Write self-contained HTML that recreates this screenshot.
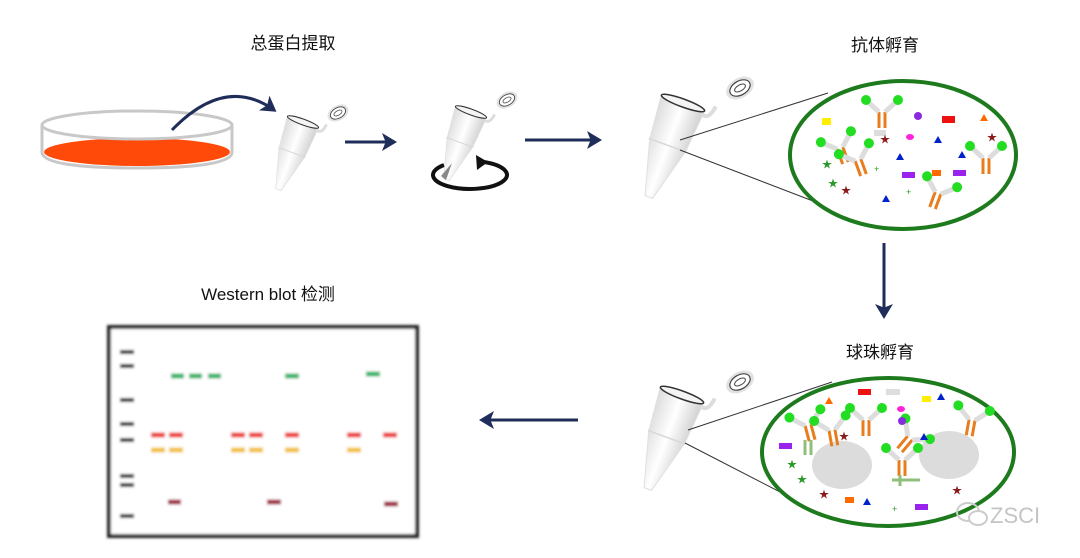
<!DOCTYPE html>
<html><head><meta charset="utf-8"><style>
html,body{margin:0;padding:0;background:#fff;}
svg{display:block;}
text{font-family:"Liberation Sans","Noto Sans CJK SC",sans-serif;}
</style></head><body>
<svg width="1080" height="558" viewBox="0 0 1080 558" xmlns="http://www.w3.org/2000/svg">
<defs>
<linearGradient id="tg" x1="0" x2="1" y1="0" y2="0">
<stop offset="0" stop-color="#dcdcdc"/><stop offset="0.5" stop-color="#ffffff"/><stop offset="1" stop-color="#d0d0d0"/>
</linearGradient>
<g id="tube">
<path d="M-23,0 L-19,45 L-4,100 L4,100 L19,45 L23,0 Z" fill="url(#tg)" stroke="#e0e0e0" stroke-width="1"/>
<line x1="-20" y1="45" x2="20" y2="45" stroke="#d8d8d8" stroke-width="1.5"/>
<ellipse cx="0" cy="0" rx="23" ry="4" fill="#f4f4f4" stroke="#333" stroke-width="1.5"/>
<path d="M21,4 Q30,8 32,-8" fill="none" stroke="#ddd" stroke-width="4"/>
</g>
<g id="cap">
<ellipse cx="0" cy="0" rx="15" ry="10" fill="#e2e2e2"/>
<ellipse cx="0" cy="0" rx="11" ry="7" fill="#fff" stroke="#444" stroke-width="1.2"/>
<ellipse cx="0" cy="0" rx="6" ry="3" fill="none" stroke="#444" stroke-width="1"/>
</g>
<marker id="ah" markerWidth="6" markerHeight="6" refX="4" refY="3" orient="auto" markerUnits="strokeWidth">
<path d="M0,0 L5,3 L0,6 L1.2,3 Z" fill="#1f2d5a"/>
</marker>
<filter id="bl"><feGaussianBlur stdDeviation="1.3"/></filter>
<g id="ab">
<path d="M-3,0 L-3,16 M3,0 L3,16" stroke="#e87d1e" stroke-width="3"/>
<path d="M-3,0 L-14,-10 M3,0 L14,-10" stroke="#ddd" stroke-width="5"/>
<circle cx="-16" cy="-12" r="5" fill="#22dd22"/><circle cx="16" cy="-12" r="5" fill="#22dd22"/>
</g>
</defs>

<text x="293" y="49" font-size="17" text-anchor="middle" fill="#111">总蛋白提取</text>
<text x="885" y="51" font-size="17" text-anchor="middle" fill="#111">抗体孵育</text>
<text x="880" y="358" font-size="17" text-anchor="middle" fill="#111">球珠孵育</text>
<text x="268" y="300" font-size="17" text-anchor="middle" fill="#111">Western blot 检测</text>

<ellipse cx="137" cy="152" rx="93" ry="14" fill="#ff4a0a"/>
<path d="M42,125 L42,153 Q45,168 137,168 Q229,168 232,153 L232,125" fill="none" stroke="#c8c8c8" stroke-width="3"/>
<ellipse cx="137" cy="125" rx="95" ry="14" fill="none" stroke="#c8c8c8" stroke-width="3"/>
<path d="M172,130 Q225,75 274,110" fill="none" stroke="#1f2d5a" stroke-width="3" marker-end="url(#ah)"/>

<g transform="translate(303,122) rotate(20) scale(0.72)"><use href="#tube"/></g>
<g transform="translate(338,113) rotate(-30) scale(0.75)"><use href="#cap"/></g>
<line x1="345" y1="142" x2="394" y2="142" stroke="#1f2d5a" stroke-width="3" marker-end="url(#ah)"/>

<path d="M444,165 A37,14 0 1 0 484,162" fill="none" stroke="#111" stroke-width="4"/>
<path d="M476,155 L488,162 L477,170 Z" fill="#111"/>
<g transform="translate(471,112) rotate(20) scale(0.72)"><use href="#tube"/></g>
<path d="M441,176 L452,163 L446,180 Z" fill="#888"/>
<g transform="translate(507,100) rotate(-30) scale(0.75)"><use href="#cap"/></g>
<line x1="525" y1="140" x2="599" y2="140" stroke="#1f2d5a" stroke-width="3" marker-end="url(#ah)"/>

<g transform="translate(683,103) rotate(20)"><use href="#tube"/></g>
<g transform="translate(740,88) rotate(-30)"><use href="#cap"/></g>
<line x1="680" y1="140" x2="828" y2="93" stroke="#333" stroke-width="1"/>
<line x1="680" y1="150" x2="826" y2="206" stroke="#333" stroke-width="1"/>

<ellipse cx="903" cy="155" rx="113" ry="74" fill="#fff" stroke="#1d7a1d" stroke-width="4"/>
<g transform="translate(882,112)"><use href="#ab"/></g>
<g transform="translate(840,148) rotate(-20)"><use href="#ab"/></g>
<g transform="translate(858,160) rotate(-20)"><use href="#ab"/></g>
<g transform="translate(986,158)"><use href="#ab"/></g>
<g transform="translate(938,193) rotate(20)"><use href="#ab"/></g>
<rect x="822" y="118" width="9" height="7" fill="#ffee00"/>
<rect x="874" y="130" width="12" height="6" fill="#ddd"/>
<circle cx="918" cy="116" r="4" fill="#8a2be2"/>
<rect x="942" y="116" width="13" height="7" fill="#ee1111"/>
<path d="M980,121 L984,114 L988,121 Z" fill="#ff6a00"/>
<ellipse cx="910" cy="137" rx="4" ry="3" fill="#ff22dd"/>
<path d="M934,143 L938,136 L942,143 Z" fill="#0022cc"/>
<path d="M896,160 L900,153 L904,160 Z" fill="#0022cc"/>
<path d="M958,158 L962,151 L966,158 Z" fill="#0022cc"/>
<path d="M882,202 L886,195 L890,202 Z" fill="#0022cc"/>
<rect x="902" y="172" width="13" height="6" fill="#9a22ee"/>
<rect x="932" y="170" width="9" height="6" fill="#ff6a00"/>
<rect x="953" y="170" width="13" height="6" fill="#9a22ee"/>
<text x="822" y="168" font-size="10" fill="#2a9a2a">★</text>
<text x="828" y="187" font-size="10" fill="#2a9a2a">★</text>
<text x="841" y="194" font-size="10" fill="#8b1a1a">★</text>
<text x="880" y="143" font-size="10" fill="#8b1a1a">★</text>
<text x="987" y="141" font-size="10" fill="#8b1a1a">★</text>
<text x="874" y="172" font-size="9" fill="#2a9a2a">+</text>
<text x="906" y="195" font-size="9" fill="#2a9a2a">+</text>

<line x1="884" y1="243" x2="884" y2="316" stroke="#1f2d5a" stroke-width="3" marker-end="url(#ah)"/>

<g transform="translate(682,395) rotate(20)"><use href="#tube"/></g>
<g transform="translate(740,382) rotate(-30)"><use href="#cap"/></g>
<line x1="688" y1="430" x2="832" y2="382" stroke="#333" stroke-width="1"/>
<line x1="685" y1="443" x2="815" y2="510" stroke="#333" stroke-width="1"/>

<ellipse cx="888" cy="452" rx="126" ry="74" fill="#fff" stroke="#1d7a1d" stroke-width="4"/>
<ellipse cx="842" cy="465" rx="30" ry="24" fill="#dcdcdc"/>
<ellipse cx="949" cy="455" rx="30" ry="24" fill="#dcdcdc"/>
<g transform="translate(808,425) rotate(-15)"><use href="#ab"/></g>
<g transform="translate(832,430) rotate(-10)"><use href="#ab"/></g>
<g transform="translate(866,420)"><use href="#ab"/></g>
<g transform="translate(902,460)"><use href="#ab"/></g>
<g transform="translate(972,420) rotate(10)"><use href="#ab"/></g>
<g transform="translate(910,438) rotate(40)"><use href="#ab"/></g>
<path d="M805,440 L805,455 M811,440 L811,455 M900,475 L900,486 M892,480 L920,480" stroke="#8fbf7a" stroke-width="3"/>
<rect x="858" y="389" width="13" height="6" fill="#ee1111"/>
<rect x="886" y="389" width="14" height="6" fill="#ddd"/>
<rect x="922" y="396" width="9" height="6" fill="#ffee00"/>
<path d="M937,400 L941,393 L945,400 Z" fill="#0022cc"/>
<path d="M825,404 L829,397 L833,404 Z" fill="#ff6a00"/>
<ellipse cx="901" cy="409" rx="4" ry="3" fill="#ff22dd"/>
<circle cx="902" cy="421" r="4" fill="#8a2be2"/>
<path d="M920,440 L924,433 L928,440 Z" fill="#0022cc"/>
<rect x="779" y="443" width="13" height="6" fill="#9a22ee"/>
<rect x="845" y="497" width="9" height="6" fill="#ff6a00"/>
<path d="M863,505 L867,498 L871,505 Z" fill="#0022cc"/>
<rect x="915" y="504" width="13" height="6" fill="#9a22ee"/>
<text x="787" y="468" font-size="10" fill="#2a9a2a">★</text>
<text x="797" y="483" font-size="10" fill="#2a9a2a">★</text>
<text x="819" y="498" font-size="10" fill="#8b1a1a">★</text>
<text x="839" y="440" font-size="10" fill="#8b1a1a">★</text>
<text x="952" y="494" font-size="10" fill="#8b1a1a">★</text>
<text x="892" y="512" font-size="9" fill="#2a9a2a">+</text>
<text x="990" y="523" font-size="22" fill="#c4c4c4">ZSCI</text>
<ellipse cx="968" cy="512" rx="11" ry="9" fill="none" stroke="#ccc" stroke-width="2"/>
<ellipse cx="978" cy="518" rx="9" ry="7" fill="#fff" stroke="#ccc" stroke-width="2"/>

<line x1="578" y1="420" x2="482" y2="420" stroke="#1f2d5a" stroke-width="3" marker-end="url(#ah)"/>

<g filter="url(#bl)">
<rect x="109" y="327" width="308" height="209" fill="#fff" stroke="#222" stroke-width="4"/>
<g stroke="#222" stroke-width="4">
<line x1="120" y1="352" x2="134" y2="352"/><line x1="120" y1="366" x2="134" y2="366"/>
<line x1="120" y1="400" x2="134" y2="400"/><line x1="120" y1="424" x2="134" y2="424"/>
<line x1="120" y1="440" x2="134" y2="440"/><line x1="120" y1="476" x2="134" y2="476"/>
<line x1="120" y1="485" x2="134" y2="485"/><line x1="120" y1="516" x2="134" y2="516"/>
</g>
<g stroke="#2fb56a" stroke-width="5">
<line x1="171" y1="376" x2="184" y2="376"/><line x1="189" y1="376" x2="202" y2="376"/><line x1="208" y1="376" x2="221" y2="376"/>
<line x1="285" y1="376" x2="299" y2="376"/><line x1="366" y1="374" x2="380" y2="374"/>
</g>
<g stroke="#ee3a3a" stroke-width="5">
<line x1="151" y1="435" x2="165" y2="435"/><line x1="169" y1="435" x2="183" y2="435"/>
<line x1="231" y1="435" x2="245" y2="435"/><line x1="249" y1="435" x2="263" y2="435"/>
<line x1="285" y1="435" x2="299" y2="435"/><line x1="347" y1="435" x2="361" y2="435"/><line x1="383" y1="435" x2="397" y2="435"/>
</g>
<g stroke="#f2c23a" stroke-width="5">
<line x1="151" y1="450" x2="165" y2="450"/><line x1="169" y1="450" x2="183" y2="450"/>
<line x1="231" y1="450" x2="245" y2="450"/><line x1="249" y1="450" x2="263" y2="450"/>
<line x1="285" y1="450" x2="299" y2="450"/><line x1="347" y1="450" x2="361" y2="450"/>
</g>
<g stroke="#a0203e" stroke-width="5">
<line x1="168" y1="502" x2="181" y2="502"/><line x1="267" y1="502" x2="281" y2="502"/><line x1="384" y1="504" x2="398" y2="504"/>
</g>
</g>
</svg>
</body></html>
